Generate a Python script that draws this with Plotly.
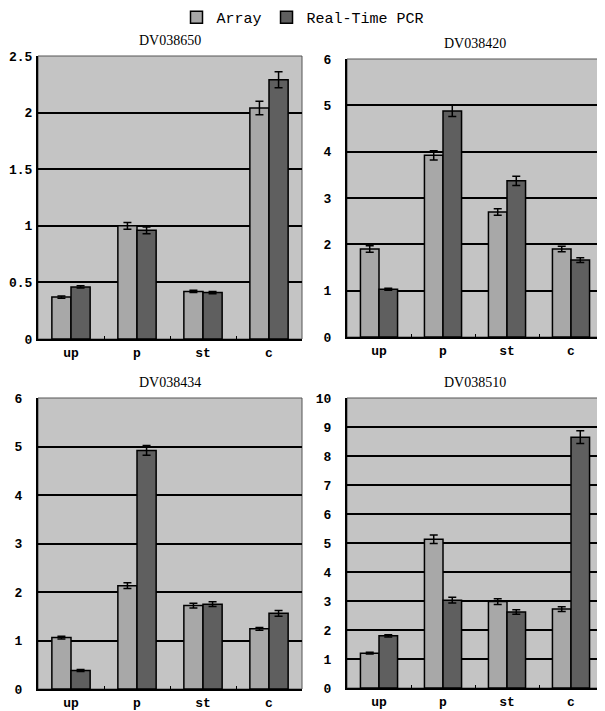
import plotly.graph_objects as go

categories = ["up", "p", "st", "c"]
titles = ["DV038650", "DV038420", "DV038434", "DV038510"]

array_vals = [
    [0.37, 1.00, 0.42, 2.04],
    [1.90, 3.92, 2.70, 1.90],
    [1.06, 2.13, 1.72, 1.24],
    [1.20, 5.13, 2.98, 2.72],
]
array_err = [
    [0.01, 0.03, 0.01, 0.06],
    [0.07, 0.10, 0.07, 0.06],
    [0.03, 0.06, 0.05, 0.03],
    [0.03, 0.15, 0.10, 0.08],
]
pcr_vals = [
    [0.46, 0.96, 0.41, 2.29],
    [1.03, 4.88, 3.37, 1.66],
    [0.38, 4.92, 1.75, 1.56],
    [1.80, 3.03, 2.62, 8.65],
]
pcr_err = [
    [0.01, 0.03, 0.01, 0.07],
    [0.02, 0.12, 0.10, 0.05],
    [0.02, 0.10, 0.05, 0.06],
    [0.04, 0.10, 0.08, 0.22],
]
y_ranges = [[0, 2.5], [0, 6], [0, 6], [0, 10]]
y_dticks = [0.5, 1, 1, 1]

# page body has an 8px margin; build the figure in page coordinates minus 8
OFF = 8
W, H = 605 - OFF, 711 - OFF


def xd(a, b):
    return [(a - OFF) / W, (b - OFF) / W]


def yd(top, bottom):
    return [1 - (bottom - OFF) / H, 1 - (top - OFF) / H]


x_doms = [xd(38, 302), xd(347, 603), xd(38, 302), xd(347, 603)]
y_doms = [yd(56, 339), yd(59, 337), yd(398, 689), yd(398, 688)]
standoffs = [1, 11, 11, 11]

ARRAY_COL = "#a8a8a8"
PCR_COL = "#5f5f5f"
BG = "#c4c4c4"

fig = go.Figure()
tick_font = dict(family="Liberation Mono", size=13, color="black", weight="bold")

for i in range(4):
    xa = "x" if i == 0 else f"x{i+1}"
    ya = "y" if i == 0 else f"y{i+1}"
    fig.add_trace(go.Bar(
        x=categories, y=array_vals[i], name="Array", xaxis=xa, yaxis=ya,
        marker=dict(color=ARRAY_COL, line=dict(color="black", width=1.5)),
        error_y=dict(type="data", array=array_err[i], color="black", thickness=1.5, width=4),
        showlegend=(i == 0), legendgroup="a",
    ))
    fig.add_trace(go.Bar(
        x=categories, y=pcr_vals[i], name="Real-Time PCR", xaxis=xa, yaxis=ya,
        marker=dict(color=PCR_COL, line=dict(color="black", width=1.5)),
        error_y=dict(type="data", array=pcr_err[i], color="black", thickness=1.5, width=4),
        showlegend=(i == 0), legendgroup="b",
    ))
    sfx = "" if i == 0 else str(i + 1)
    fig.layout["xaxis" + sfx] = dict(
        domain=x_doms[i], anchor=ya, type="category",
        showline=True, linecolor="black", linewidth=2,
        ticks="inside", tickson="boundaries", ticklen=3, tickcolor="black",
        tickfont=tick_font, showgrid=False, fixedrange=True, automargin=False,
    )
    fig.layout["yaxis" + sfx] = dict(
        domain=y_doms[i], anchor=xa, range=y_ranges[i], dtick=y_dticks[i],
        showline=True, linecolor="black", linewidth=2,
        showgrid=True, gridcolor="black", gridwidth=1.8,
        zeroline=False, ticks="", ticklabelstandoff=standoffs[i],
        tickfont=tick_font, fixedrange=True, automargin=False,
    )
    fig.add_shape(type="rect", xref=f"{xa} domain", yref=f"{ya} domain",
                  x0=0, x1=1, y0=0, y1=1, fillcolor=BG,
                  line=dict(color="#555555", width=1), layer="below")
    fig.add_annotation(text=titles[i], xref=f"{xa} domain", yref=f"{ya} domain",
                       x=0.5, y=1, yanchor="bottom", yshift=6, showarrow=False,
                       font=dict(family="Liberation Serif", size=14, color="black"))

fig.update_layout(
    width=W, height=H,
    margin=dict(l=0, r=0, t=0, b=0, autoexpand=False),
    paper_bgcolor="white", plot_bgcolor="rgba(0,0,0,0)",
    barmode="group", bargap=0.42, bargroupgap=0,
    legend=dict(orientation="h", x=(303 - OFF) / W, xanchor="center",
                y=1 + 7 / H, yanchor="top",
                font=dict(family="Liberation Mono", size=15, color="black"),
                itemwidth=30, bgcolor="rgba(0,0,0,0)"),
)

fig.write_html("out.html")
